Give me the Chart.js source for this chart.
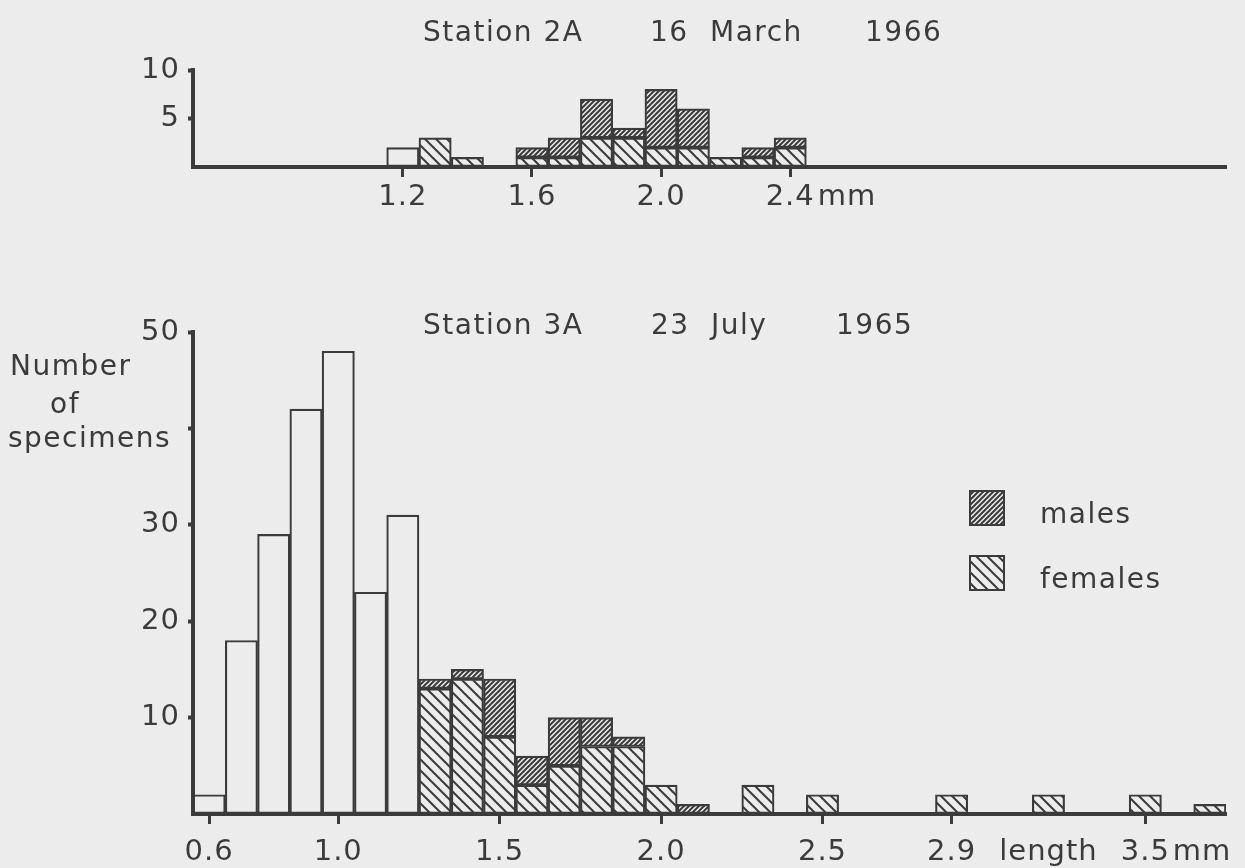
<!DOCTYPE html>
<html>
<head>
<meta charset="utf-8">
<script src="https://cdn.jsdelivr.net/npm/chart.js@4.4.1/dist/chart.umd.min.js"></script>
<style>
  html, body { margin: 0; padding: 0; background: #ececec; }
  body { width: 1245px; height: 868px; position: relative; overflow: hidden; }
  .box { position: absolute; left: 0; width: 1245px; }
  #march-box { top: 0; height: 240px; }
  #july-box { top: 240px; height: 628px; }
</style>
</head>
<body>
<div class="box" id="march-box"><canvas id="march-chart"></canvas></div>
<div class="box" id="july-box"><canvas id="july-chart"></canvas></div>
<script>
const INK = "#3b3b3b";
const FONT = "'DejaVu Sans', sans-serif";

// length classes (mm), shared by both histograms
const lengths = [
  "0.6", "0.7", "0.8", "0.9", "1.0", "1.1", "1.2", "1.3",
  "1.4", "1.5", "1.6", "1.7", "1.8", "1.9", "2.0", "2.1",
  "2.2", "2.3", "2.4", "2.5", "2.6", "2.7", "2.8", "2.9",
  "3.0", "3.1", "3.2", "3.3", "3.4", "3.5", "3.6", "3.7",
];

// Station 2A, 16 March 1966
const marchTitle = ["Station 2A", "16", "March", "1966"];
const marchTicks = ["1.2", "1.6", "2.0", "2.4"];
const marchYLabels = [5, 10];
const marchUnsexed = [0, 0, 0, 0, 0, 0, 2, 0, 0, 0, 0, 0, 0, 0, 0, 0, 0, 0, 0, 0, 0, 0, 0, 0, 0, 0, 0, 0, 0, 0, 0, 0];
const marchFemales = [0, 0, 0, 0, 0, 0, 0, 3, 1, 0, 1, 1, 3, 3, 2, 2, 1, 1, 2, 0, 0, 0, 0, 0, 0, 0, 0, 0, 0, 0, 0, 0];
const marchMales   = [0, 0, 0, 0, 0, 0, 0, 0, 0, 0, 1, 2, 4, 1, 6, 4, 0, 1, 1, 0, 0, 0, 0, 0, 0, 0, 0, 0, 0, 0, 0, 0];

// Station 3A, 23 July 1965
const julyTitle = ["Station 3A", "23", "July", "1965"];
const julyTicks = ["0.6", "1.0", "1.5", "2.0", "2.5", "2.9", "3.5"];
const julyYLabels = [10, 20, 30, 50];
const julyUnsexed = [2, 18, 29, 42, 48, 23, 31, 0, 0, 0, 0, 0, 0, 0, 0, 0, 0, 0, 0, 0, 0, 0, 0, 0, 0, 0, 0, 0, 0, 0, 0, 0];
const julyFemales = [0, 0, 0, 0, 0, 0, 0, 13, 14, 8, 3, 5, 7, 7, 3, 0, 0, 3, 0, 2, 0, 0, 0, 2, 0, 0, 2, 0, 0, 2, 0, 1];
const julyMales   = [0, 0, 0, 0, 0, 0, 0, 1, 1, 6, 3, 5, 3, 1, 0, 1, 0, 0, 0, 0, 0, 0, 0, 0, 0, 0, 0, 0, 0, 0, 0, 0];

const yTitle = ["Number", "of", "specimens"];
const xTitle = "length";
const xTitleAt = "3.2";
const unit = "mm";
const legendLabels = ["males", "females"];

function hatch(size, width, forward) {
  const c = document.createElement("canvas");
  c.width = size;
  c.height = size;
  const g = c.getContext("2d");
  g.strokeStyle = INK;
  g.lineWidth = width;
  g.beginPath();
  if (forward) {
    g.moveTo(0, size); g.lineTo(size, 0);
    g.moveTo(-2, 2); g.lineTo(2, -2);
    g.moveTo(size - 2, size + 2); g.lineTo(size + 2, size - 2);
  } else {
    g.moveTo(0, 0); g.lineTo(size, size);
    g.moveTo(size - 2, -2); g.lineTo(size + 2, 2);
    g.moveTo(-2, size - 2); g.lineTo(2, size + 2);
  }
  g.stroke();
  return g.createPattern(c, "repeat");
}

const malePattern = hatch(5, 2, true);
const femalePattern = hatch(11, 2, false);

const spacing = {
  id: "spacing",
  beforeLayout(chart) { chart.ctx.letterSpacing = "1px"; },
  beforeDraw(chart) { chart.ctx.letterSpacing = "1px"; },
};

function font(size) {
  return `${size}px ${FONT}`;
}

function titlePlugin(words, xs, y) {
  return {
    id: "stationTitle",
    afterDraw(chart) {
      const ctx = chart.ctx;
      ctx.save();
      ctx.letterSpacing = "1.5px";
      ctx.font = font(28);
      ctx.fillStyle = INK;
      ctx.textBaseline = "alphabetic";
      words.forEach((w, i) => ctx.fillText(w, xs[i], y));
      ctx.restore();
    },
  };
}

// writes "mm" right after the last numbered tick label
const unitPlugin = {
  id: "unitLabel",
  afterDraw(chart, args, opts) {
    const scale = chart.scales.x;
    const ctx = chart.ctx;
    const size = scale.options.ticks.font.size;
    const x = scale.getPixelForValue(lengths.indexOf(opts.after));
    const y = scale.top + scale.options.grid.tickLength + scale.options.ticks.padding + size * 0.6;
    ctx.save();
    ctx.letterSpacing = "1px";
    ctx.font = font(size);
    ctx.fillStyle = INK;
    ctx.textBaseline = "middle";
    const w = ctx.measureText(opts.after).width;
    ctx.fillText(unit, x + w / 2 + 3, y);
    ctx.restore();
  },
};

const yTitlePlugin = {
  id: "yTitle",
  afterDraw(chart) {
    const ctx = chart.ctx;
    ctx.save();
    ctx.letterSpacing = "1.5px";
    ctx.font = font(28);
    ctx.fillStyle = INK;
    ctx.fillText(yTitle[0], 10, 135);
    ctx.fillText(yTitle[1], 50, 173);
    ctx.fillText(yTitle[2], 8, 207);
    ctx.restore();
  },
};

const legendPlugin = {
  id: "sexLegend",
  afterDraw(chart) {
    const ctx = chart.ctx;
    ctx.save();
    ctx.letterSpacing = "1.5px";
    ctx.font = font(28);
    legendLabels.forEach((label, i) => {
      const ds = chart.data.datasets.find((d) => d.label === label);
      const top = 251 + i * 65;
      ctx.fillStyle = ds.backgroundColor;
      ctx.fillRect(970, top, 34, 34);
      ctx.strokeStyle = INK;
      ctx.lineWidth = 2;
      ctx.strokeRect(970, top, 34, 34);
      ctx.fillStyle = INK;
      ctx.fillText(label, 1040, top + 32);
    });
    ctx.restore();
  },
};

function makeChart(id, opts) {
  const tickSet = opts.ticks;
  const bar = { borderColor: INK, borderWidth: 1.5, borderSkipped: false, barPercentage: 1, categoryPercentage: 1 };
  return new Chart(document.getElementById(id), {
    type: "bar",
    data: {
      labels: lengths,
      datasets: [
        { label: "unsexed", data: opts.unsexed.map((v) => v || null), backgroundColor: "rgba(0,0,0,0)", ...bar },
        { label: "females", data: opts.females.map((v) => v || null), backgroundColor: femalePattern, ...bar },
        { label: "males", data: opts.males.map((v) => v || null), backgroundColor: malePattern, ...bar },
      ],
    },
    plugins: [spacing, ...opts.plugins],
    options: {
      responsive: true,
      maintainAspectRatio: false,
      animation: false,
      layout: { padding: { top: opts.padTop, right: 19, left: 0, bottom: 0 } },
      plugins: {
        legend: { display: false },
        tooltip: { enabled: false },
        unitLabel: { after: tickSet[tickSet.length - 1] },
      },
      scales: {
        x: {
          stacked: true,
          afterFit: (scale) => { scale.height = opts.xHeight; },
          border: { display: true, color: INK, width: 4 },
          grid: {
            offset: false,
            drawOnChartArea: false,
            tickLength: 10,
            tickWidth: 3,
            tickColor: (ctx) => (tickSet.includes(lengths[ctx.index]) ? INK : "rgba(0,0,0,0)"),
          },
          ticks: {
            autoSkip: false,
            maxRotation: 0,
            padding: opts.labelPad,
            color: INK,
            font: { family: FONT, size: 29 },
            callback: (value, index) => {
              const lab = lengths[index];
              if (tickSet.includes(lab)) return lab;
              if (opts.xTitle && lab === xTitleAt) return xTitle;
              return "";
            },
          },
        },
        y: {
          stacked: true,
          min: 0,
          max: opts.max,
          afterFit: (scale) => { scale.width = 193; },
          border: { display: true, color: INK, width: 4 },
          grid: {
            drawOnChartArea: false,
            tickLength: 5,
            tickWidth: 4,
            tickColor: (ctx) => (ctx.tick && ctx.tick.value === 0 ? "rgba(0,0,0,0)" : INK),
          },
          ticks: {
            stepSize: opts.step,
            padding: 8,
            color: INK,
            font: { family: FONT, size: 29 },
            callback: (value) => (opts.yLabels.includes(value) ? value : ""),
          },
        },
      },
    },
  });
}

makeChart("march-chart", {
  unsexed: marchUnsexed,
  females: marchFemales,
  males: marchMales,
  max: 10,
  step: 5,
  yLabels: marchYLabels,
  ticks: marchTicks,
  padTop: 70,
  xHeight: 73,
  labelPad: 3,
  xTitle: false,
  plugins: [unitPlugin, titlePlugin(marchTitle, [423, 650, 710, 865], 41)],
});

makeChart("july-chart", {
  unsexed: julyUnsexed,
  females: julyFemales,
  males: julyMales,
  max: 50,
  step: 10,
  yLabels: julyYLabels,
  ticks: julyTicks,
  padTop: 92,
  xHeight: 54,
  labelPad: 11,
  xTitle: true,
  plugins: [unitPlugin, yTitlePlugin, legendPlugin, titlePlugin(julyTitle, [423, 651, 711, 836], 94)],
});
</script>
</body>
</html>
